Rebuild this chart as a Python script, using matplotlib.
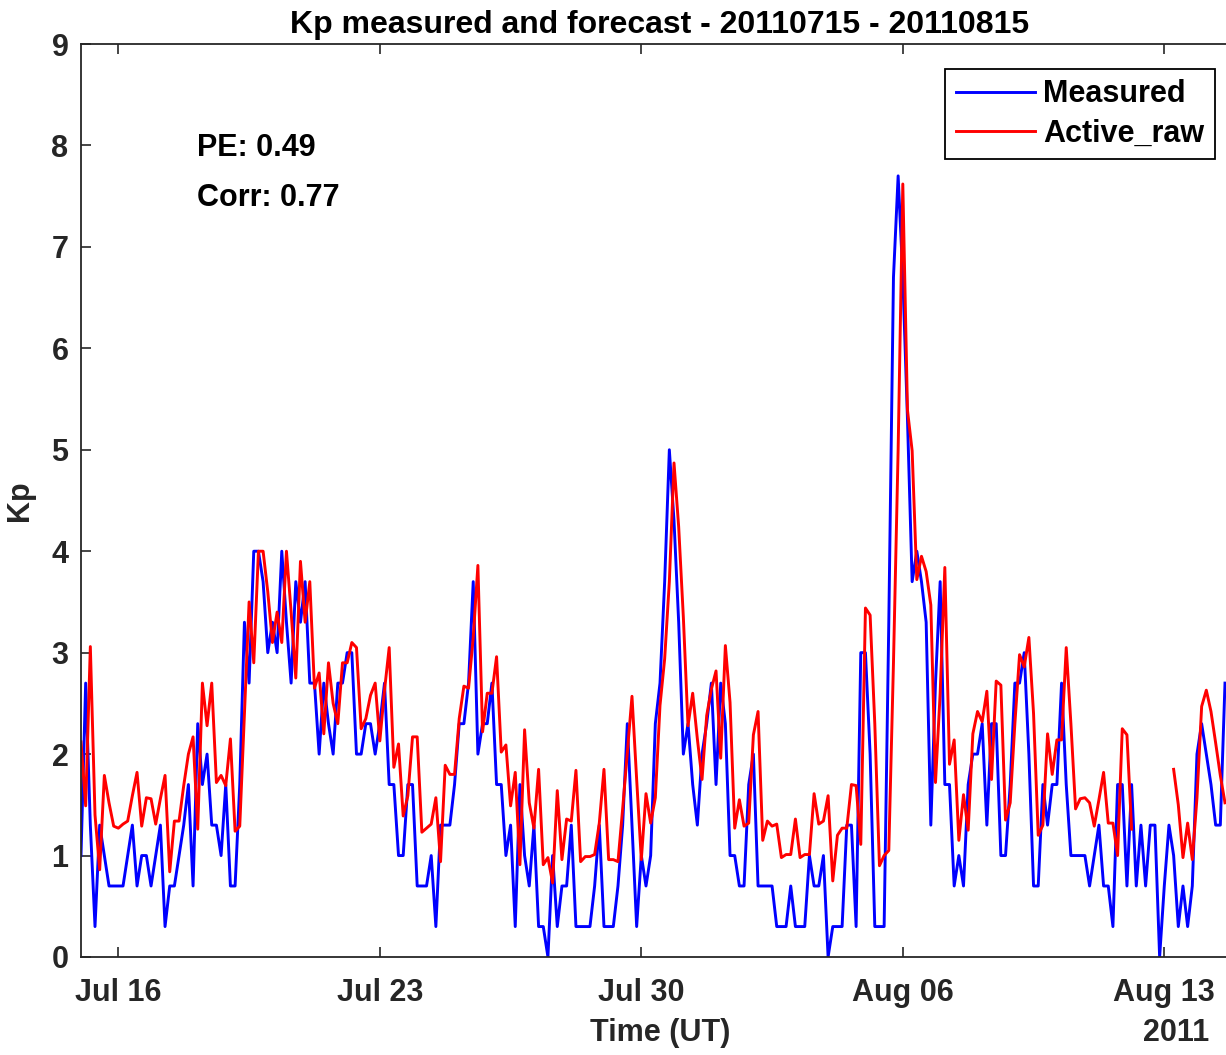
import matplotlib
matplotlib.use("Agg")
import matplotlib.pyplot as plt
import matplotlib.dates as mdates
import numpy as np
from datetime import datetime, timedelta

# 3-hourly Kp, starting 2011-07-15 00:00 UT
start = datetime(2011, 7, 15)
step_hours = 3

measured = [
    1.0, 2.7, 1.3, 0.3, 1.3, 1.0, 0.7, 0.7, 0.7, 0.7, 1.0, 1.3, 0.7, 1.0, 1.0, 0.7, 1.0, 1.3, 0.3, 0.7, 0.7,
    1.0, 1.3, 1.7, 0.7, 2.3, 1.7, 2.0, 1.3, 1.3, 1.0, 1.7, 0.7, 0.7, 1.7, 3.3, 2.7, 4.0, 4.0, 3.7, 3.0,
    3.3, 3.0, 4.0, 3.3, 2.7, 3.7, 3.3, 3.7, 2.7, 2.7, 2.0, 2.7, 2.3, 2.0, 2.7, 2.7, 3.0, 3.0, 2.0,
    2.0, 2.3, 2.3, 2.0, 2.3, 2.7, 1.7, 1.7, 1.0, 1.0, 1.7, 1.7, 0.7, 0.7, 0.7, 1.0, 0.3, 1.3, 1.3, 1.3, 1.7, 2.3,
    2.3, 2.7, 3.7, 2.0, 2.3, 2.3, 2.7, 1.7, 1.7, 1.0, 1.3, 0.3, 1.7, 1.0, 0.7, 1.3, 0.3, 0.3, 0.0, 1.0,
    0.3, 0.7, 0.7, 1.3, 0.3, 0.3, 0.3, 0.3, 0.7, 1.3, 0.3, 0.3, 0.3, 0.7, 1.3, 2.3, 1.3, 0.3, 1.0, 0.7, 1.0,
    2.3, 2.7, 3.7, 5.0, 4.3, 3.3, 2.0, 2.3, 1.7, 1.3, 2.0, 2.3, 2.7, 1.7, 2.7, 2.3, 1.0, 1.0, 0.7, 0.7,
    1.7, 2.0, 0.7, 0.7, 0.7, 0.7, 0.3, 0.3, 0.3, 0.7, 0.3, 0.3, 0.3, 1.0, 0.7, 0.7, 1.0, 0.0, 0.3, 0.3, 0.3,
    1.3, 1.3, 0.3, 3.0, 3.0, 2.0, 0.3, 0.3, 0.3, 3.3, 6.7, 7.7, 6.7, 5.3, 3.7, 4.0, 3.7, 3.3, 1.3, 2.7,
    3.7, 1.7, 1.7, 0.7, 1.0, 0.7, 1.7, 2.0, 2.0, 2.3, 1.3, 2.3, 2.3, 1.0, 1.0, 1.7, 2.7, 2.7, 3.0, 2.0,
    0.7, 0.7, 1.7, 1.3, 1.7, 1.7, 2.7, 1.7, 1.0, 1.0, 1.0, 1.0, 0.7, 1.0, 1.3, 0.7, 0.7, 0.3, 1.7, 1.7, 0.7, 1.7,
    0.7, 1.3, 0.7, 1.3, 1.3, 0.0, 0.7, 1.3, 1.0, 0.3, 0.7, 0.3, 0.7, 2.0, 2.3, 2.0, 1.7, 1.3, 1.3, 2.7,
]

nan = np.nan
active_raw = [
    2.12, 1.49, 3.06, 1.4, 0.86, 1.79, 1.52, 1.29, 1.27, 1.31, 1.34, 1.59, 1.82, 1.29, 1.57, 1.56, 1.31, 1.56, 1.79, 0.84, 1.34,
    1.34, 1.69, 2.0, 2.17, 1.26, 2.7, 2.28, 2.7, 1.72, 1.79, 1.69, 2.15, 1.24, 1.29, 2.4, 3.5, 2.9, 4.0, 4.0, 3.6,
    3.1, 3.4, 3.1, 4.0, 3.4, 2.75, 3.9, 3.3, 3.7, 2.65, 2.8, 2.2, 2.9, 2.5, 2.3, 2.9, 2.9, 3.1, 3.05, 2.25, 2.35,
    2.58, 2.7, 2.13, 2.63, 3.05, 1.87, 2.1, 1.39, 1.59, 2.17, 2.17, 1.23, 1.27, 1.31, 1.57, 0.94, 1.89, 1.8, 1.8, 2.35,
    2.67, 2.65, 3.15, 3.86, 2.22, 2.6, 2.6, 2.96, 2.02, 2.09, 1.49, 1.82, 0.91, 2.24, 1.52, 1.27, 1.85, 0.91, 0.98, 0.73,
    1.64, 0.96, 1.36, 1.34, 1.84, 0.94, 0.99, 0.99, 1.01, 1.32, 1.85, 0.96, 0.96, 0.94, 1.46, 2.02, 2.57, 1.75, 0.96, 1.61, 1.32,
    1.57, 2.48, 2.94, 3.7, 4.87, 4.24, 3.35, 2.28, 2.6, 2.15, 1.75, 2.38, 2.64, 2.82, 1.96, 3.07, 2.51, 1.27, 1.55, 1.29,
    1.32, 2.19, 2.42, 1.15, 1.34, 1.29, 1.31, 0.98, 1.01, 1.01, 1.36, 0.98, 1.01, 1.01, 1.61, 1.31, 1.34, 1.59, 0.75,
    1.2, 1.27, 1.27, 1.7, 1.69, 1.11, 3.44, 3.37, 2.3, 0.9, 1.0, 1.05, 2.9, 5.0, 7.62, 5.39, 4.99, 3.72, 3.95, 3.8, 3.47, 1.72,
    2.6, 3.84, 1.9, 2.14, 1.15, 1.6, 1.25, 2.2, 2.42, 2.32, 2.62, 1.75, 2.72, 2.68, 1.35, 1.52, 2.3, 2.98, 2.86, 3.15,
    2.4, 1.2, 1.3, 2.2, 1.8, 2.14, 2.14, 3.05, 2.3, 1.46, 1.56, 1.57, 1.52, 1.29, 1.55, 1.82, 1.32, 1.32, 1.0, 2.25, 2.19, 1.26,
    nan, nan, nan, nan, nan, nan, nan, nan,
    1.85, 1.5, 0.98, 1.32, 0.96, 1.57, 2.47, 2.63, 2.42, 2.11, 1.79, 1.52,
]

times = [start + timedelta(hours=step_hours * k) for k in range(len(measured))]
tick_days = [datetime(2011, 7, 16) + timedelta(days=7 * k) for k in range(5)]

pe_text = "PE: 0.49"
corr_text = "Corr: 0.77"

plt.rcParams['font.family'] = ['Liberation Sans', 'DejaVu Sans']
plt.rcParams['font.weight'] = 'bold'
plt.rcParams['axes.labelweight'] = 'bold'
axcol = '#262626'

W, H = 1226, 1055
fig = plt.figure(figsize=(W / 100, H / 100), dpi=100)
# axes runs past the right edge of the picture, as in the original export
ax = fig.add_axes([81 / W, 1 - 957 / H, (1239 - 81) / W, (957 - 44) / H])

ax.plot(times, measured, color='blue', lw=2.1, label='Measured')
ax.plot(times, active_raw, color='red', lw=2.1, label='Active_raw')

ax.set_xlim(datetime(2011, 7, 15), datetime(2011, 8, 15))
ax.set_ylim(0, 9)
ax.set_yticks(range(10))
ax.set_xticks(tick_days)
ax.xaxis.set_major_formatter(mdates.DateFormatter('%b %d'))

ax.tick_params(direction='in', length=7, width=1.2, top=True, right=True,
               labelsize=22, colors=axcol)
ax.tick_params(axis='x', pad=15)
ax.tick_params(axis='y', pad=9)
for s in ax.spines.values():
    s.set_linewidth(1.3)
    s.set_color(axcol)

ax.set_title("Kp measured and forecast - 20110715 - 20110815",
             fontsize=23, fontweight='bold', pad=8)
ax.set_ylabel("Kp", fontsize=22, fontweight='bold', color=axcol)
ax.yaxis.set_label_coords(-0.04, 0.5)
ax.set_xlabel("Time (UT)", fontsize=22, fontweight='bold', color=axcol)
ax.xaxis.set_label_coords(0.5, -0.067)
ax.text(0.946, -0.067, "2011", transform=ax.transAxes, ha='center', va='top',
        fontsize=22, color=axcol)

ax.text(0.1003, 0.886, pe_text, transform=ax.transAxes, ha='left', va='center', fontsize=22)
ax.text(0.1003, 0.831, corr_text, transform=ax.transAxes, ha='left', va='center', fontsize=22)

leg = ax.legend(loc='upper right', bbox_to_anchor=(0.979, 0.973), fontsize=22,
                frameon=True, fancybox=False, handlelength=2.6, handletextpad=0.25,
                borderpad=0.35, labelspacing=0.3, borderaxespad=0, handleheight=0.7)
leg.get_frame().set_edgecolor('black')
leg.get_frame().set_linewidth(1.3)
leg.get_frame().set_alpha(1)

fig.savefig("out.png", dpi=100)
